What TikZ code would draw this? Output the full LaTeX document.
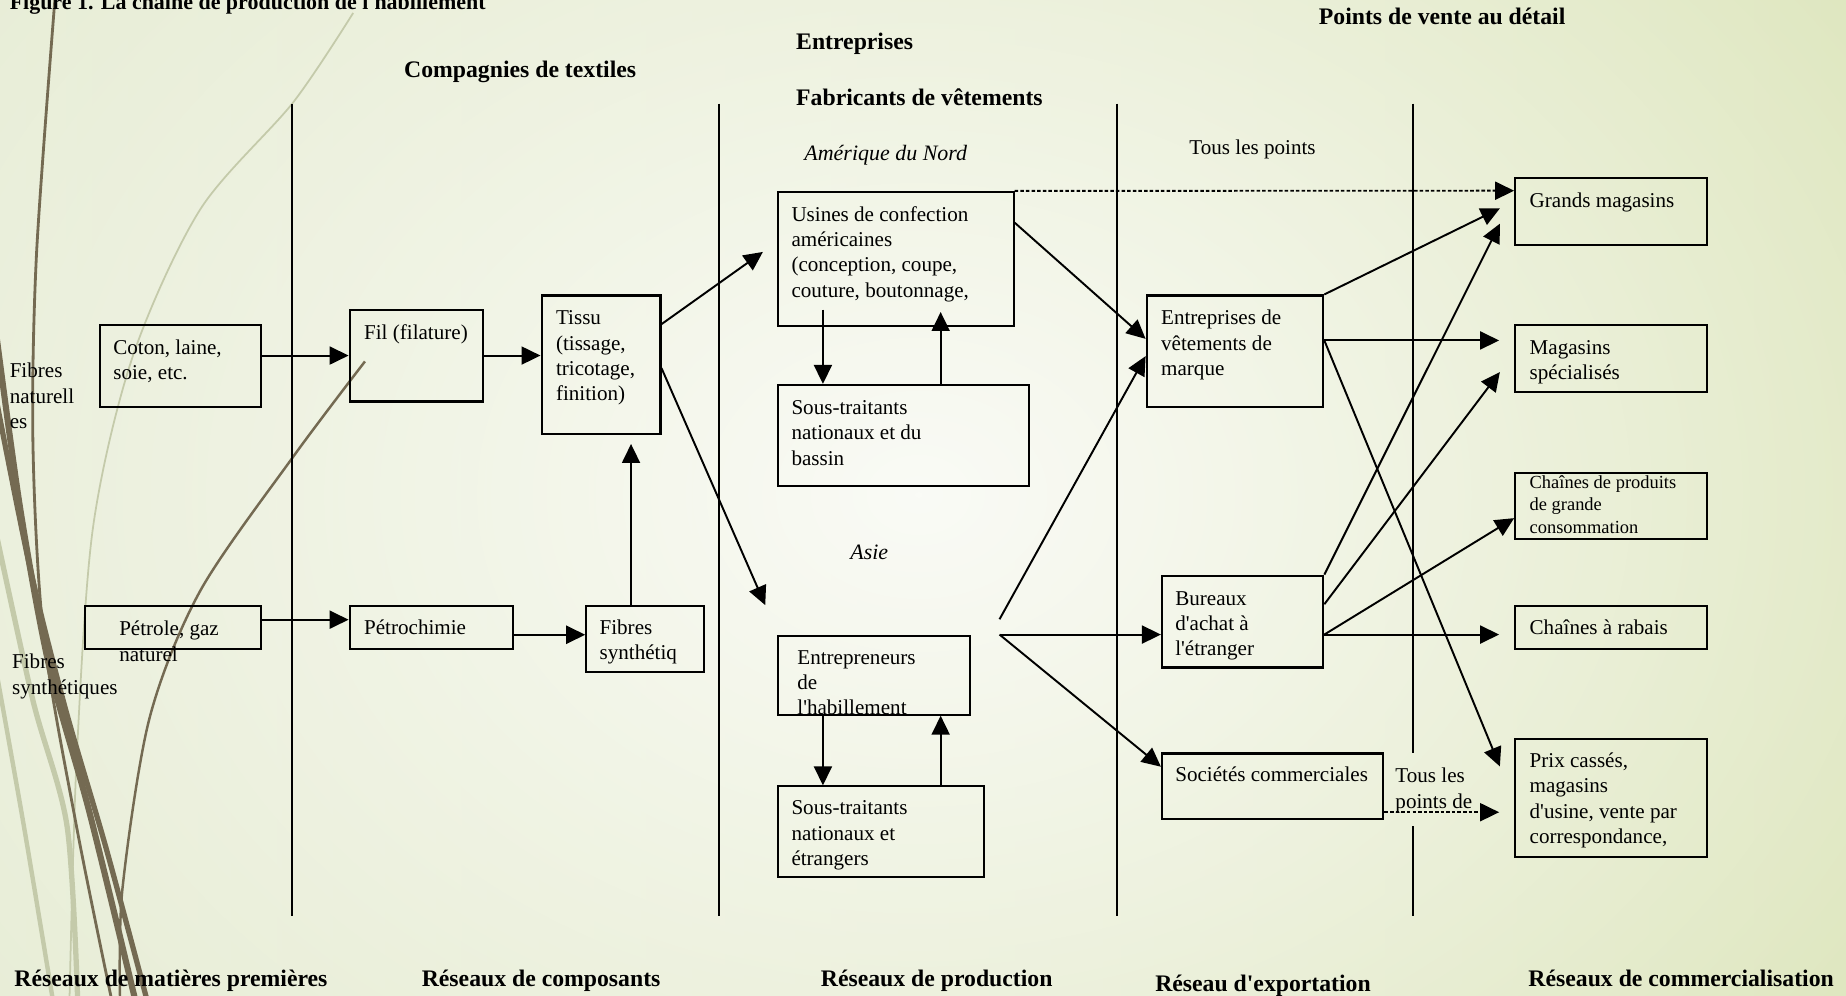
\documentclass[tikz,border=0pt]{standalone}
\usepackage{fontspec}
\setmainfont{Liberation Serif}
\usetikzlibrary{arrows.meta, calc, fit, fadings, positioning}
\definecolor{fondgauche}{RGB}{222,230,198}
\definecolor{fonddroite}{RGB}{208,220,162}
\definecolor{fondclair}{RGB}{250,251,246}
\definecolor{brun}{RGB}{116,106,82}
\definecolor{grisvert}{RGB}{196,202,170}
\tikzfading[name=halo, inner color=transparent!0, outer color=transparent!100]
\newcommand{\apos}{\textquotesingle}

\begin{document}
\begin{tikzpicture}[x=0.02355cm, y=-0.02355cm,
	boite/.style = {draw, line width=1.2pt, inner sep=0pt},
	texte/.style = {anchor=base west, align=left, inner sep=0pt, font=\fontsize{12}{14.4}\selectfont},
	decale/.style = {yshift={-#1*14.4pt}},
	petit/.style = {texte, font=\fontsize{10.5}{12.7}\selectfont, yshift={-#1*12.7pt}},
	entete/.style = {anchor=base west, inner sep=0pt, font=\fontsize{13.5}{16}\selectfont\bfseries},
	region/.style = {anchor=base west, inner sep=0pt, font=\fontsize{12.5}{15}\selectfont\itshape},
	fleche/.style = {line width=1.1pt, -{Triangle[length=0.38cm, width=0.36cm]}},
	pointille/.style = {fleche, dash pattern=on 2pt off 1.2pt},
	court/.style = {shorten >=0.3cm},
	limite/.style = {line width=1pt}]
	\useasboundingbox (0,0) rectangle (1568,846);
	\shade[left color=fondgauche, right color=fonddroite] (0,0) rectangle (1568,846);
	\begin{scope}
		\clip (0,0) rectangle (1568,846);
		\fill[fondclair, path fading=halo] (780,420) ellipse (1500 and 1150);
		\draw[grisvert, line width=1pt] plot[smooth] coordinates {(300,11) (249,87) (170,178) (113,302) (79,448) (65,647) (59,850)};
		\draw[grisvert, line width=3pt] plot[smooth] coordinates {(-5,445) (28,595) (57,702) (66,850)};
		\draw[grisvert, line width=2.5pt] plot[smooth] coordinates {(-5,560) (20,700) (45,850)};
		\draw[brun, line width=1.6pt] plot[smooth] coordinates {(47,-5) (31,216) (28,378) (37,539) (65,702) (95,850)};
		\draw[brun, line width=3.5pt] plot[smooth] coordinates {(-5,270) (17,431) (42,567) (76,690) (115,850)};
		\draw[brun, line width=3pt] plot[smooth] coordinates {(-5,330) (25,480) (55,600) (90,720) (125,850)};
		\draw[brun, line width=1.4pt] plot[smooth] coordinates {(310,307) (249,388) (170,502) (127,610) (104,755) (102,850)};
	\end{scope}

	\node[entete, font=\fontsize{12.5}{15}\selectfont\bfseries] (titre) at (8,8) {Figure 1. La chaîne de production de l\apos habillement};
	\node[entete] (h-textiles) at (343,66) {Compagnies de textiles};
	\node[entete] (h-entreprises) at (676,42) {Entreprises};
	\node[entete] (h-fabricants) at (676,90) {Fabricants de vêtements};
	\node[entete] (h-points) at (1120,21) {Points de vente au détail};
	\node[entete] (b-matieres) at (12,838) {Réseaux de matières premières};
	\node[entete] (b-composants) at (358,838) {Réseaux de composants};
	\node[entete] (b-production) at (697,838) {Réseaux de production};
	\node[entete] (b-exportation) at (981,842) {Réseau d\apos exportation};
	\node[entete] (b-commerce) at (1298,838) {Réseaux de commercialisation};

	\draw[limite] (248,88) -- (248,778);
	\draw[limite] (611,88) -- (611,778);
	\draw[limite] (949,88) -- (949,778);
	\draw[limite] (1200,88) -- (1200,640);
	\draw[limite] (1200,702) -- (1200,778);

	\node[texte, decale=2] (f-naturelles) at (8,321) {Fibres\\naturell\\es};
	\node[texte, decale=1] (f-synthetiques) at (10,568) {Fibres\\synthétiques};
	\node[region] (nord-t) at (683,136) {Amérique du Nord};
	\node[region] (asie-t) at (722,475) {Asie};
	\node[texte] (tous1) at (1010,131) {Tous les points};
	\node[texte, decale=1] (tous2) at (1185,665) {Tous les\\points de};

	\node[boite, fit={(85,276) (222,346)}] (coton) {};
	\node[boite, fit={(297,263) (410,341)}] (fil) {};
	\node[boite, fit={(460,251) (561,369)}] (tissu) {};
	\node[boite, fit={(72,515) (222,551)}] (petrole) {};
	\node[boite, fit={(297,515) (436,551)}] (petrochimie) {};
	\node[boite, fit={(498,515) (598,571)}] (fibsynth) {};
	\node[boite, fit={(661,163) (861,277)}] (usines) {};
	\node[boite, fit={(661,327) (874,413)}] (soustraitA) {};
	\node[boite, fit={(661,540) (824,607)}] (entrepren) {};
	\node[boite, fit={(661,668) (836,745)}] (soustraitB) {};
	\node[boite, fit={(974,251) (1124,346)}] (marque) {};
	\node[boite, fit={(987,489) (1124,567)}] (bureaux) {};
	\node[boite, fit={(987,640) (1175,696)}] (societes) {};
	\node[boite, fit={(1287,151) (1450,208)}] (grands) {};
	\node[boite, fit={(1287,276) (1450,333)}] (specialises) {};
	\node[boite, fit={(1287,402) (1450,458)}] (chaines) {};
	\node[boite, fit={(1287,515) (1450,551)}] (rabais) {};
	\node[boite, fit={(1287,628) (1450,728)}] (prix) {};

	\node[texte, decale=1] (coton-t) at (96,301) {Coton, laine,\\soie, etc.};
	\node[texte] (fil-t) at (309,288) {Fil (filature)};
	\node[texte, decale=3] (tissu-t) at (472,276) {Tissu\\(tissage,\\tricotage,\\finition)};
	\node[texte, decale=1] (petrole-t) at (101,540) {Pétrole, gaz\\naturel};
	\node[texte] (petrochimie-t) at (309,539) {Pétrochimie};
	\node[texte, decale=1] (fibsynth-t) at (509,539) {Fibres\\synthétiq};
	\node[texte, decale=3] (usines-t) at (672,188) {Usines de confection\\américaines\\(conception, coupe,\\couture, boutonnage,};
	\node[texte, decale=2] (soustraitA-t) at (672,352) {Sous-traitants\\nationaux et du\\bassin};
	\begin{scope}
		\clip (661,540) rectangle (824,607);
		\node[texte, decale=2] (entrepren-t) at (677,564) {Entrepreneurs\\de\\l\apos habillement};
	\end{scope}
	\node[texte, decale=2] (soustraitB-t) at (672,692) {Sous-traitants\\nationaux et\\étrangers};
	\node[texte, decale=2] (marque-t) at (986,276) {Entreprises de\\vêtements de\\marque};
	\node[texte, decale=2] (bureaux-t) at (998,514) {Bureaux\\d\apos achat à\\l\apos étranger};
	\node[texte] (societes-t) at (998,664) {Sociétés commerciales};
	\node[texte] (grands-t) at (1299,176) {Grands magasins};
	\node[texte, decale=1] (specialises-t) at (1299,301) {Magasins\\spécialisés};
	\node[petit=2] (chaines-t) at (1299,415) {Chaînes de produits\\de grande\\consommation};
	\node[texte] (rabais-t) at (1299,539) {Chaînes à rabais};
	\node[texte, decale=3] (prix-t) at (1299,652) {Prix cassés,\\magasins\\d\apos usine, vente par\\correspondance,};

	\coordinate (nord) at (648,214);
	\coordinate (asie) at (650,514);
	\coordinate (asieA) at (849,526);
	\coordinate (asieB) at (849,539);
	\coordinate (u1) at (699,263);
	\coordinate (u2) at (799,265);
	\coordinate (e1) at (699,600);
	\coordinate (e2) at (799,600);
	\coordinate (fs) at (536,520);
	\coordinate (gm1) at (1274,177);
	\coordinate (gm2) at (1274,190);
	\coordinate (ms2) at (1274,316);
	\coordinate (pc1) at (1274,651);

	\draw[fleche] (coton.east |- fil.west) -- (fil.west);
	\draw[fleche] (fil.east) -- (tissu.west |- fil.east);
	\draw[fleche] (petrole.5) -- (petrochimie.west |- petrole.5);
	\draw[fleche] (petrochimie.-5) -- (fibsynth.west |- petrochimie.-5);
	\draw[fleche, shorten >=0.17cm] (fs |- fibsynth.north) -- (fs |- tissu.south);
	\draw[fleche] (tissu.34) -- (nord);
	\draw[fleche] (tissu.-3) -- (asie);
	\draw[fleche] (u1) -- (u1 |- soustraitA.north);
	\draw[fleche] (u2 |- soustraitA.north) -- (u2);
	\draw[fleche] (e1 |- entrepren.south) -- (e1 |- soustraitB.north);
	\draw[fleche] (e2 |- soustraitB.north) -- (e2 |- entrepren.south);
	\draw[fleche] (usines.17) -- (marque.172);
	\draw[pointille] (usines.north east) -- (grands.168);
	\draw[fleche] (asieA) -- (marque.183);
	\draw[fleche] (asieB) -- (bureaux.west |- asieB);
	\draw[fleche] (asieB) -- (societes.170);
	\draw[fleche] (marque.north east) -- (gm1);
	\draw[fleche, court] (marque.7) -- (marque.7 -| specialises.west);
	\draw[fleche] (marque.7) -- (pc1);
	\draw[fleche] (bureaux.north east) -- (gm2);
	\draw[fleche] (bureaux.12) -- (ms2);
	\draw[fleche] (bureaux.-9) -- (chaines.187);
	\draw[fleche, court] (bureaux.-9) -- (bureaux.-9 -| rabais.west);
	\draw[pointille, court] (societes.-13) -- (societes.-13 -| prix.west);
\end{tikzpicture}
\end{document}
